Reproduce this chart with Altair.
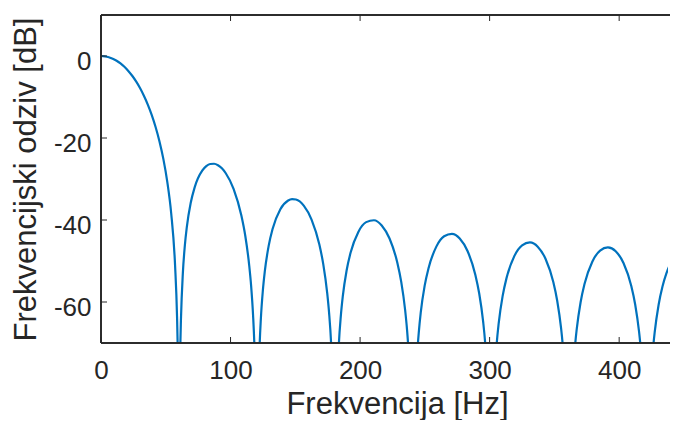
import altair as alt
import pandas as pd

# Frequency response (Hz, dB); values below -70 dB are clipped by the axes
freq_hz = [
    0, 3.01, 6.02, 9.03, 12.04, 15.05, 18.06, 21.07, 24.08, 27.09, 30.1, 33.11, 36.12, 39.13,
    42.14, 45.15, 48.16, 51.17, 54.18, 57.19, 58.70, 59.15,
    60.2,
    61.28, 61.71, 63.21, 64.72, 66.22, 69.23, 72.24, 78.26, 81.27, 84.28, 87.29, 90.3, 93.31,
    96.32, 102.34, 108.36, 111.37, 114.38, 115.89, 117.39, 118.35,
    120.4,
    122.52, 123.41, 124.92, 126.42, 129.43, 132.44, 138.46, 144.48, 147.49, 150.5, 156.52,
    162.54, 168.56, 171.57, 174.58, 176.09, 177.63,
    180.6,
    183.66, 185.12, 186.62, 189.63, 192.64, 198.66, 204.68, 210.7, 216.72, 222.74, 228.76,
    231.77, 234.78, 236.29, 237.02,
    240.8,
    244.67, 245.32, 246.82, 249.83, 252.84, 258.86, 264.88, 270.9, 276.92, 282.94, 288.96,
    291.97, 294.98, 296.57,
    301.0,
    305.51, 307.02, 310.03, 313.04, 319.06, 325.08, 331.1, 337.12, 343.14, 349.16, 352.17,
    355.18, 356.31,
    361.2,
    366.14, 367.22, 370.23, 373.24, 379.26, 385.28, 391.3, 397.32, 403.34, 409.36, 412.37,
    415.38, 416.27,
    421.4,
    426.55, 427.42, 430.43, 433.44, 436.45, 439.46, 442.47, 445.48,
]
response_db = [
    0, -0.07, -0.29, -0.65, -1.15, -1.82, -2.64, -3.64, -4.82, -6.20, -7.81, -9.68, -11.84, -14.35,
    -17.31, -20.84, -25.16, -30.69, -38.35, -51.11, -63.54, -70,
    -100,
    -70, -64.39, -52.83, -46.25, -41.79, -35.87, -32.10, -27.91, -26.88, -26.35, -26.28, -26.64, -27.40,
    -28.60, -32.42, -38.92, -43.85, -50.98, -56.06, -63.23, -70,
    -100,
    -70, -64.05, -57.28, -52.61, -46.31, -42.20, -37.36, -35.23, -34.89, -35.00, -36.49,
    -39.89, -46.00, -50.75, -57.70, -62.70, -70,
    -100,
    -70, -63.45, -58.70, -52.26, -48.00, -42.90, -40.52, -40.06, -41.33, -44.52, -50.43,
    -55.10, -61.95, -66.91, -70,
    -100,
    -70, -67.40, -62.61, -56.08, -51.75, -46.49, -43.96, -43.36, -44.49, -47.55, -53.34,
    -57.94, -64.73, -70,
    -100,
    -70, -65.15, -58.57, -54.18, -48.81, -46.18, -45.47, -46.50, -49.46, -55.15, -59.70,
    -66.45, -70,
    -100,
    -70, -66.69, -60.06, -55.62, -50.17, -47.45, -46.66, -47.61, -50.48, -56.09, -60.60,
    -67.31, -70,
    -100,
    -70, -67.38, -60.72, -56.24, -53.04, -50.71, -49.04, -47.91,
]
x_ticks = [0, 100, 200, 300, 400]
y_ticks = [0, -20, -40, -60]

x_title = "Frekvencija [Hz]"
y_title = "Frekvencijski odziv [dB]"

FONT = "Liberation Sans"
INK = "#262626"
W, H = 567, 328          # plot area; page is 662x412 inside the 8px margin
X_MAX = 437.7            # frequency at the right edge of the visible plot

curve = pd.DataFrame({"f": freq_hz, "db": response_db})
xt = pd.DataFrame({"f": x_ticks})
yt = pd.DataFrame({"db": y_ticks})

xscale = alt.Scale(domain=[0, X_MAX], nice=False, zero=False)
yscale = alt.Scale(domain=[-70, 10], nice=False, zero=False)

xaxis = alt.Axis(
    values=x_ticks, title=x_title, orient="bottom",
    labelPadding=35, labelBaseline="alphabetic", labelFlush=False,
    titleX=296, titleY=70, titleAlign="center", titleBaseline="alphabetic",
)
yaxis = alt.Axis(
    values=y_ticks, title=y_title, orient="left",
    labelPadding=10, labelOffset=13, labelBaseline="alphabetic", labelFlush=False,
    labelExpr="replace(datum.label, '\u2212', '-')",
    titleX=-66, titleY=164, titleAngle=270, titleAlign="center", titleBaseline="alphabetic",
)

line = alt.Chart(curve).mark_line(
    color="#0072BD", strokeWidth=2.2, clip=True, interpolate="monotone"
).encode(
    x=alt.X("f:Q", scale=xscale, axis=xaxis),
    y=alt.Y("db:Q", scale=yscale, axis=yaxis),
)

bottom_ticks = alt.Chart(xt).mark_rule(color=INK, strokeWidth=1).encode(
    x=alt.X("f:Q", scale=xscale, axis=xaxis),
    y=alt.value(H), y2=alt.value(H - 6),
)
top_ticks = alt.Chart(xt).mark_rule(color=INK, strokeWidth=1).encode(
    x=alt.X("f:Q", scale=xscale, axis=xaxis),
    y=alt.value(0), y2=alt.value(6),
)
left_ticks = alt.Chart(yt).mark_rule(color=INK, strokeWidth=1).encode(
    y=alt.Y("db:Q", scale=yscale, axis=yaxis),
    x=alt.value(0), x2=alt.value(6),
)
top_border = alt.Chart(xt).mark_rule(color=INK, strokeWidth=1).encode(
    x=alt.value(0), x2=alt.value(W + 2), y=alt.value(0),
)
bottom_border = alt.Chart(xt).mark_rule(color=INK, strokeWidth=1).encode(
    x=alt.value(0), x2=alt.value(W + 2), y=alt.value(H),
)
left_border = alt.Chart(xt).mark_rule(color=INK, strokeWidth=1).encode(
    x=alt.value(0), y=alt.value(0), y2=alt.value(H),
)

chart = alt.layer(
    line, bottom_ticks, top_ticks, left_ticks, top_border, bottom_border, left_border
).resolve_axis(
    x="shared", y="shared"
).properties(
    width=W, height=H,
    autosize=alt.AutoSizeParams(type="none"),
    padding={"left": 93, "top": 7, "right": 2, "bottom": 77},
    background="white",
).configure_view(
    stroke="transparent", strokeWidth=0
).configure_axis(
    grid=False, ticks=False, tickSize=0, domain=False,
    labelFont=FONT, labelFontSize=26, labelColor=INK,
    titleFont=FONT, titleFontSize=31, titleFontWeight="normal", titleColor=INK,
)

chart.save("out.html", embed_options={"renderer": "svg", "actions": False})
